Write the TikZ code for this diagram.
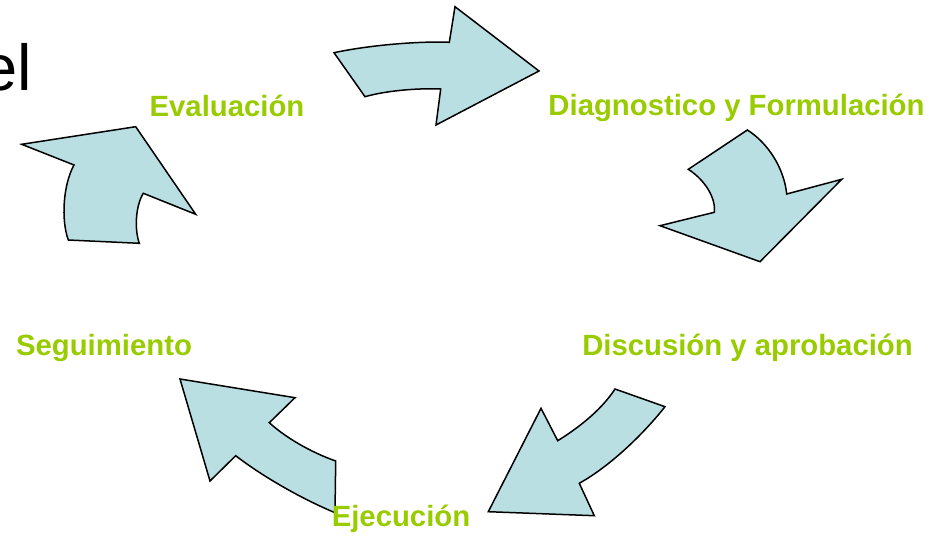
\documentclass[tikz,border=0pt]{standalone}
\usepackage{fontspec}
\setmainfont{Liberation Sans}
\definecolor{arrowfill}{RGB}{185,223,227}
\definecolor{labelgreen}{RGB}{153,204,0}
\begin{document}
\begin{tikzpicture}[x=1pt,y=-1pt,
  bentarrow/.style={fill=arrowfill,draw=black,line width=1.5pt,line join=miter},
  lbl/.style={text=labelgreen,font=\fontsize{29.3}{31}\selectfont\bfseries,inner sep=0pt,anchor=base}]
\useasboundingbox (0,0) rectangle (936,535);
% title fragment (cut off at the left edge, as in the reference)
\node[inner sep=0pt,anchor=base east,font=\fontsize{65}{70}\selectfont] (title) at (32.6,90) {el};
% arrow 1 (top, to the right)
\draw[bentarrow] (334,52.7) .. controls (370,45) and (420,41) .. (449.3,42.3)
  -- (455,6.7) -- (539,71) -- (436,125) -- (440.7,89)
  .. controls (415,88) and (385,91) .. (365,96.7) -- cycle;
% arrow 2 (right, downward)
\draw[bentarrow] (747.3,130) .. controls (768,143) and (784,168) .. (786.7,194)
  -- (841.7,179.3) -- (760,261.7) -- (660,225.7) -- (714.3,212.3)
  .. controls (716,198) and (705,180) .. (688.3,169.3) -- cycle;
% arrow 3 (lower right, down-left)
\draw[bentarrow] (615,389) -- (665,406.7)
  .. controls (645,432) and (612,465) .. (579.3,483.3)
  -- (594.3,515.7) -- (488.3,511.7) -- (541,408.3) -- (557.7,440.7)
  .. controls (575,430) and (600,412) .. cycle;
% arrow 4 (lower left, up-left)
\draw[bentarrow] (180,379) -- (295,397.7) -- (269.3,422.7)
  .. controls (285,437) and (310,452) .. (335.7,461)
  -- (335,512.7)
  .. controls (300,498) and (262,476) .. (235.7,455.7)
  -- (210,481) -- cycle;
% arrow 5 (left, upward)
\draw[bentarrow] (21.7,144.3) -- (135.7,126.7) -- (195.7,214.3) -- (143.3,193.3)
  .. controls (136,205) and (134,228) .. (139.3,243.3)
  -- (68.3,240)
  .. controls (61,220) and (63,185) .. (74,165) -- cycle;
% labels
\node[lbl] (evaluacion) at (227,116.7) {Evaluación};
\node[lbl] (diagnostico) at (736.5,115.7) {Diagnostico y Formulación};
\node[lbl] (discusion) at (747.5,355) {Discusión y aprobación};
\node[lbl] (seguimiento) at (104,355) {Seguimiento};
\node[lbl] (ejecucion) at (401,526.7) {Ejecución};
\end{tikzpicture}
\end{document}
